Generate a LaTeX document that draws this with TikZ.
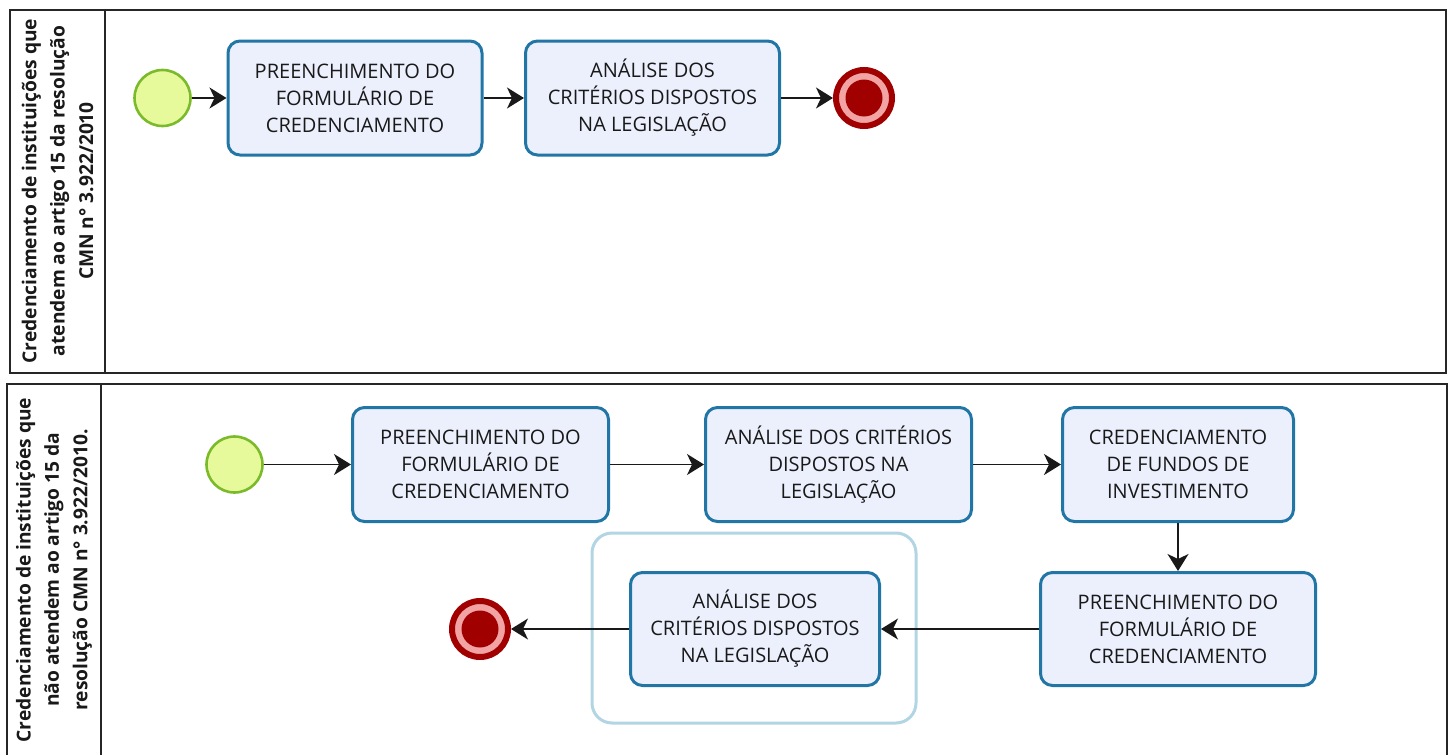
\documentclass[tikz,border=0pt]{standalone}
\usepackage{fontspec}
\setmainfont{Open Sans}
\usetikzlibrary{arrows.meta,positioning}
\definecolor{taskfill}{HTML}{ECF0FD}
\definecolor{taskline}{HTML}{2276A6}
\definecolor{startfill}{HTML}{E6FA9C}
\definecolor{startline}{HTML}{7BBA2A}
\definecolor{endred}{HTML}{A00000}
\definecolor{endpink}{HTML}{F2A3A3}
\definecolor{groupline}{HTML}{B2D5E4}
\begin{document}
\begin{tikzpicture}[x=0.5pt,y=-0.5pt,
  lane/.style={draw=black!85,line width=1pt},
  lanelabel/.style={rotate=90,align=center,text=black!90,font=\bfseries\fontsize{9.6}{14.2}\selectfont},
  task/.style={rectangle,rounded corners=6pt,draw=taskline,fill=taskfill,line width=1.5pt,
    minimum width=127pt,minimum height=57pt,inner sep=0pt,align=center,text=black!90,
    font=\fontsize{10}{13.5}\selectfont},
  startev/.style={circle,draw=startline,fill=startfill,line width=1.3pt,minimum size=28pt,inner sep=0pt},
  endev/.style={circle,draw=endred,fill=endpink,line width=3pt,minimum size=28pt,inner sep=0pt},
  enddot/.style={circle,fill=endred,minimum size=18.5pt,inner sep=0pt},
  flow/.style={-{Stealth[length=8.5pt,width=10.5pt,inset=2.5pt]},line width=0.9pt,draw=black!90},
  groupbox/.style={draw=groupline,line width=1.5pt,rounded corners=10pt}]
\useasboundingbox (0,0) rectangle (1452,755);
% lanes
\draw[lane] (10,10) rectangle (1446,373);
\draw[lane] (105,10) -- (105,373);
\draw[lane] (7,384) rectangle (1447,765);
\draw[lane] (101,384) -- (101,765);
\node[lanelabel] (lbl1) at (57.5,191) {Credenciamento de instituições que\\atendem ao artigo 15 da resolução\\CMN n° 3.922/2010};
\node[lanelabel] (lbl2) at (54,570) {Credenciamento de instituições que\\não atendem ao artigo 15 da\\resolução CMN n° 3.922/2010.};
% lane 1
\node[startev] (start1) at (162.5,98) {};
\node[task] (fill1) at (355,98) {PREENCHIMENTO DO\\FORMULÁRIO DE\\CREDENCIAMENTO};
\node[task] (check1) at (652.5,98) {ANÁLISE DOS\\CRITÉRIOS DISPOSTOS\\NA LEGISLAÇÃO};
\node[endev] (end1) at (864,98) {};
\node[enddot] at (end1) {};
\draw[flow] (start1) -- (fill1);
\draw[flow] (fill1) -- (check1);
\draw[flow] (check1) -- (end1);
% lane 2
\draw[groupbox] (592,533) rectangle (916,723);
\node[startev] (start2) at (234.5,464.5) {};
\node[task,minimum width=128pt] (fill2) at (480.5,464.5) {PREENCHIMENTO DO\\FORMULÁRIO DE\\CREDENCIAMENTO};
\node[task,minimum width=133pt] (check2) at (838.5,464.5) {ANÁLISE DOS CRITÉRIOS\\DISPOSTOS NA\\LEGISLAÇÃO};
\node[task,minimum width=115.5pt] (fund2) at (1178,464.5) {CREDENCIAMENTO\\DE FUNDOS DE\\INVESTIMENTO};
\node[task,minimum width=137.5pt,minimum height=56.5pt] (fill3) at (1178,629) {PREENCHIMENTO DO\\FORMULÁRIO DE\\CREDENCIAMENTO};
\node[task,minimum width=124.5pt,minimum height=56.5pt] (check3) at (755,629) {ANÁLISE DOS\\CRITÉRIOS DISPOSTOS\\NA LEGISLAÇÃO};
\node[endev] (end2) at (480,629) {};
\node[enddot] at (end2) {};
\draw[flow] (start2) -- (fill2);
\draw[flow] (fill2) -- (check2);
\draw[flow] (check2) -- (fund2);
\draw[flow] (fund2) -- (fill3);
\draw[flow] (fill3) -- (check3);
\draw[flow] (check3) -- (end2);
\end{tikzpicture}
\end{document}
